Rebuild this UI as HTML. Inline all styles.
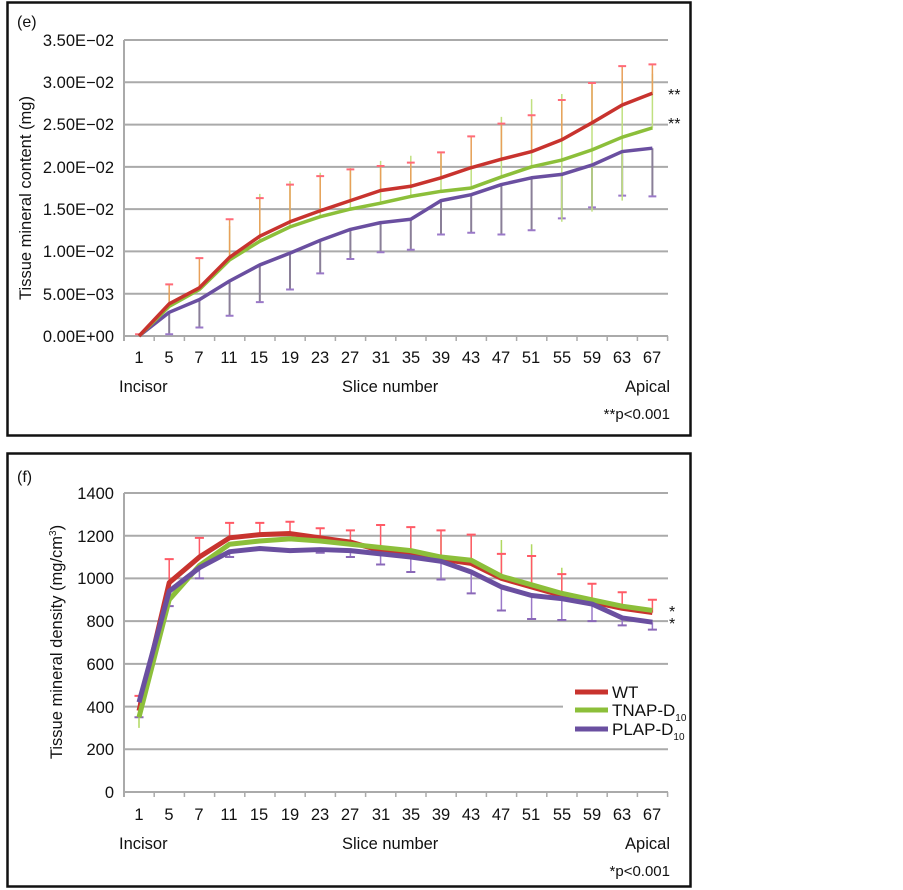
<!DOCTYPE html>
<html><head><meta charset="utf-8"><style>
body{margin:0;background:#fff}
svg{display:block}
text{font-family:"Liberation Sans",Arial,sans-serif;fill:#111}
</style></head><body>
<svg width="903" height="890" viewBox="0 0 903 890" xmlns="http://www.w3.org/2000/svg">
<rect width="903" height="890" fill="#fff"/>
<!-- ===== TOP (e) ===== -->
<rect x="7.5" y="2.5" width="683" height="433" fill="none" stroke="#111" stroke-width="2.5"/>
<text x="17" y="27" font-size="16">(e)</text>
<g stroke="#aaa" stroke-width="2">
<line x1="124" y1="40" x2="668" y2="40"/><line x1="124" y1="82.3" x2="668" y2="82.3"/><line x1="124" y1="124.6" x2="668" y2="124.6"/><line x1="124" y1="166.9" x2="668" y2="166.9"/><line x1="124" y1="209.1" x2="668" y2="209.1"/><line x1="124" y1="251.4" x2="668" y2="251.4"/><line x1="124" y1="293.7" x2="668" y2="293.7"/><line x1="124" y1="336" x2="668" y2="336"/>
<line x1="124" y1="40" x2="124" y2="341"/>
</g>
<g stroke="#aaa" stroke-width="1.5">
<line x1="154.2" y1="336" x2="154.2" y2="341"/><line x1="184.4" y1="336" x2="184.4" y2="341"/><line x1="214.6" y1="336" x2="214.6" y2="341"/><line x1="244.8" y1="336" x2="244.8" y2="341"/><line x1="275" y1="336" x2="275" y2="341"/><line x1="305.2" y1="336" x2="305.2" y2="341"/><line x1="335.4" y1="336" x2="335.4" y2="341"/><line x1="365.6" y1="336" x2="365.6" y2="341"/><line x1="395.8" y1="336" x2="395.8" y2="341"/><line x1="426" y1="336" x2="426" y2="341"/><line x1="456.2" y1="336" x2="456.2" y2="341"/><line x1="486.4" y1="336" x2="486.4" y2="341"/><line x1="516.6" y1="336" x2="516.6" y2="341"/><line x1="546.8" y1="336" x2="546.8" y2="341"/><line x1="577" y1="336" x2="577" y2="341"/><line x1="607.2" y1="336" x2="607.2" y2="341"/><line x1="637.4" y1="336" x2="637.4" y2="341"/><line x1="667.6" y1="336" x2="667.6" y2="341"/>
</g>
<g font-size="16.5" text-anchor="end">
<text x="114" y="46">3.50E−02</text><text x="114" y="88">3.00E−02</text><text x="114" y="130">2.50E−02</text><text x="114" y="173">2.00E−02</text><text x="114" y="215">1.50E−02</text><text x="114" y="257">1.00E−02</text><text x="114" y="300">5.00E−03</text><text x="114" y="342">0.00E+00</text>
</g>
<text transform="translate(31,198) rotate(-90)" font-size="16.5" text-anchor="middle">Tissue mineral content (mg)</text>
<g font-size="16.5" text-anchor="middle">
<text x="139" y="363">1</text><text x="169" y="363">5</text><text x="199" y="363">7</text><text x="229" y="363">11</text><text x="259" y="363">15</text><text x="290" y="363">19</text><text x="320" y="363">23</text><text x="350" y="363">27</text><text x="381" y="363">31</text><text x="411" y="363">35</text><text x="441" y="363">39</text><text x="471" y="363">43</text><text x="501" y="363">47</text><text x="531" y="363">51</text><text x="562" y="363">55</text><text x="592" y="363">59</text><text x="622" y="363">63</text><text x="652" y="363">67</text>
</g>
<text x="119" y="392" font-size="16.5">Incisor</text>
<text x="342" y="392" font-size="16.5">Slice number</text>
<text x="670" y="392" font-size="16.5" text-anchor="end">Apical</text>
<text x="670" y="419" font-size="15" text-anchor="end">**p&lt;0.001</text>
<text x="668" y="100" font-size="16">**</text>
<text x="668" y="129" font-size="16">**</text>
<g transform="translate(139,336) scale(30.2,-84.6)">
<path vector-effect="non-scaling-stroke" fill="none" stroke="#8a7f98" stroke-width="2" d="M1,0.28V0.02M2,0.43V0.1M3,0.65V0.24M4,0.84V0.4M5,0.98V0.55M6,1.13V0.74M7,1.26V0.91M8,1.34V0.99M9,1.38V1.02M10,1.6V1.2M11,1.67V1.22M12,1.79V1.2M13,1.87V1.25M14,1.91V1.39M15,2.02V1.52M16,2.18V1.66M17,2.22V1.65"/>
<path vector-effect="non-scaling-stroke" fill="none" stroke="#9a78c8" stroke-width="2" d="M0.87,0.02H1.13M1.87,0.1H2.13M2.87,0.24H3.13M3.87,0.4H4.13M4.87,0.55H5.13M5.87,0.74H6.13M6.87,0.91H7.13M7.87,0.99H8.13M8.87,1.02H9.13M9.87,1.2H10.13M10.87,1.22H11.13M11.87,1.2H12.13M12.87,1.25H13.13M13.87,1.39H14.13M14.87,1.52H15.13M15.87,1.66H16.13M16.87,1.65H17.13"/>
<path vector-effect="non-scaling-stroke" fill="none" stroke="#c0e080" stroke-width="1.5" d="M1,0.35V0.5M3,0.9V1.3M4,1.12V1.68M5,1.29V1.83M6,1.41V1.93M7,1.5V1.99M8,1.57V2.07M9,1.65V2.13M10,1.71V2.15M11,1.75V2.2M12,1.88V2.59M13,2.0V2.8M14,2.08V2.86M15,2.2V2.99M16,2.35V3.05M17,2.46V3.1M14,2.08V1.35M15,2.2V1.47M16,2.35V1.6"/>
<path vector-effect="non-scaling-stroke" fill="none" stroke="#e8a05a" stroke-width="1.5" d="M1,0.38V0.61M2,0.57V0.92M3,0.93V1.38M4,1.18V1.63M5,1.35V1.79M6,1.48V1.89M7,1.6V1.97M8,1.72V2.01M9,1.77V2.05M10,1.87V2.17M11,1.99V2.36M12,2.09V2.51M13,2.18V2.61M14,2.32V2.79M15,2.52V2.99M16,2.73V3.19M17,2.87V3.21"/>
<path vector-effect="non-scaling-stroke" fill="none" stroke="#ff6a78" stroke-width="2" d="M-0.13,0.02H0.13M0.87,0.61H1.13M1.87,0.92H2.13M2.87,1.38H3.13M3.87,1.63H4.13M4.87,1.79H5.13M5.87,1.89H6.13M6.87,1.97H7.13M7.87,2.01H8.13M8.87,2.05H9.13M9.87,2.17H10.13M10.87,2.36H11.13M11.87,2.51H12.13M12.87,2.61H13.13M13.87,2.79H14.13M14.87,2.99H15.13M15.87,3.19H16.13M16.87,3.21H17.13"/>
<path vector-effect="non-scaling-stroke" fill="none" stroke="#6a4fa0" stroke-width="3.5" stroke-linejoin="round" d="M0,0L1,0.28L2,0.43L3,0.65L4,0.84L5,0.98L6,1.13L7,1.26L8,1.34L9,1.38L10,1.6L11,1.67L12,1.79L13,1.87L14,1.91L15,2.02L16,2.18L17,2.22"/>
<path vector-effect="non-scaling-stroke" fill="none" stroke="#8cbf3a" stroke-width="3.5" stroke-linejoin="round" d="M0,0L1,0.35L2,0.55L3,0.9L4,1.12L5,1.29L6,1.41L7,1.5L8,1.57L9,1.65L10,1.71L11,1.75L12,1.88L13,2.0L14,2.08L15,2.2L16,2.35L17,2.46"/>
<path vector-effect="non-scaling-stroke" fill="none" stroke="#c8332e" stroke-width="3.5" stroke-linejoin="round" d="M0,0L1,0.38L2,0.57L3,0.93L4,1.18L5,1.35L6,1.48L7,1.6L8,1.72L9,1.77L10,1.87L11,1.99L12,2.09L13,2.18L14,2.32L15,2.52L16,2.73L17,2.87"/>
</g>

<!-- ===== BOTTOM (f) ===== -->
<rect x="7.5" y="453.5" width="683" height="433" fill="none" stroke="#111" stroke-width="2.5"/>
<text x="17" y="482" font-size="16">(f)</text>
<g stroke="#aaa" stroke-width="2">
<line x1="124" y1="493" x2="668" y2="493"/><line x1="124" y1="535.7" x2="668" y2="535.7"/><line x1="124" y1="578.4" x2="668" y2="578.4"/><line x1="124" y1="621.1" x2="668" y2="621.1"/><line x1="124" y1="663.9" x2="668" y2="663.9"/><line x1="124" y1="706.6" x2="563" y2="706.6"/><line x1="124" y1="749.3" x2="668" y2="749.3"/><line x1="124" y1="792" x2="668" y2="792"/>
<line x1="124" y1="493" x2="124" y2="797"/>
</g>
<g stroke="#aaa" stroke-width="1.5">
<line x1="154.2" y1="792" x2="154.2" y2="797"/><line x1="184.4" y1="792" x2="184.4" y2="797"/><line x1="214.6" y1="792" x2="214.6" y2="797"/><line x1="244.8" y1="792" x2="244.8" y2="797"/><line x1="275" y1="792" x2="275" y2="797"/><line x1="305.2" y1="792" x2="305.2" y2="797"/><line x1="335.4" y1="792" x2="335.4" y2="797"/><line x1="365.6" y1="792" x2="365.6" y2="797"/><line x1="395.8" y1="792" x2="395.8" y2="797"/><line x1="426" y1="792" x2="426" y2="797"/><line x1="456.2" y1="792" x2="456.2" y2="797"/><line x1="486.4" y1="792" x2="486.4" y2="797"/><line x1="516.6" y1="792" x2="516.6" y2="797"/><line x1="546.8" y1="792" x2="546.8" y2="797"/><line x1="577" y1="792" x2="577" y2="797"/><line x1="607.2" y1="792" x2="607.2" y2="797"/><line x1="637.4" y1="792" x2="637.4" y2="797"/><line x1="667.6" y1="792" x2="667.6" y2="797"/>
</g>
<g font-size="16.5" text-anchor="end">
<text x="114" y="499">1400</text><text x="114" y="542">1200</text><text x="114" y="584">1000</text><text x="114" y="627">800</text><text x="114" y="670">600</text><text x="114" y="713">400</text><text x="114" y="755">200</text><text x="114" y="798">0</text>
</g>
<text transform="translate(62,642) rotate(-90)" font-size="16.5" text-anchor="middle">Tissue mineral density (mg/cm<tspan font-size="10" dy="-6">3</tspan><tspan dy="6">)</tspan></text>
<g font-size="16.5" text-anchor="middle">
<text x="139" y="820">1</text><text x="169" y="820">5</text><text x="199" y="820">7</text><text x="229" y="820">11</text><text x="259" y="820">15</text><text x="290" y="820">19</text><text x="320" y="820">23</text><text x="350" y="820">27</text><text x="381" y="820">31</text><text x="411" y="820">35</text><text x="441" y="820">39</text><text x="471" y="820">43</text><text x="501" y="820">47</text><text x="531" y="820">51</text><text x="562" y="820">55</text><text x="592" y="820">59</text><text x="622" y="820">63</text><text x="652" y="820">67</text>
</g>
<text x="119" y="849" font-size="16.5">Incisor</text>
<text x="342" y="849" font-size="16.5">Slice number</text>
<text x="670" y="849" font-size="16.5" text-anchor="end">Apical</text>
<text x="670" y="876" font-size="15" text-anchor="end">*p&lt;0.001</text>
<text x="669" y="617" font-size="16">*</text>
<text x="669" y="629" font-size="16">*</text>
<g transform="translate(139,792) scale(30.2,-0.2136)">
<path vector-effect="non-scaling-stroke" fill="none" stroke="#9a78c8" stroke-width="1.5" d="M1,940V870M2,1050V1000M3,1125V1100M5,1130V1120M6,1135V1120M7,1130V1100M8,1115V1065M9,1100V1030M10,1080V995M11,1030V930M12,960V850M13,920V810M14,905V805M15,880V800M16,815V780M17,795V760M0,420V350"/>
<path vector-effect="non-scaling-stroke" fill="none" stroke="#8a68b8" stroke-width="2" d="M0.85,870H1.15M1.85,1000H2.15M2.85,1100H3.15M5.85,1120H6.15M6.85,1100H7.15M7.85,1065H8.15M8.85,1030H9.15M9.85,995H10.15M10.85,930H11.15M11.85,850H12.15M12.85,810H13.15M13.85,805H14.15M14.85,800H15.15M15.85,780H16.15M16.85,760H17.15M-0.15,350H0.15"/>
<path vector-effect="non-scaling-stroke" fill="none" stroke="#b0d860" stroke-width="1.5" d="M0,350V300M9,1130V1200M10,1100V1200M11,1085V1205M12,1010V1180M13,970V1160M14,930V1050"/>
<path vector-effect="non-scaling-stroke" fill="none" stroke="#ff5a66" stroke-width="1.5" d="M0,380V450M1,980V1090M2,1100V1190M3,1190V1260M4,1205V1260M5,1210V1265M6,1190V1235M7,1170V1225M8,1130V1250M9,1115V1240M10,1090V1225M11,1070V1205M12,1000V1115M13,960V1105M14,920V1020M15,890V975M16,860V935M17,840V900"/>
<path vector-effect="non-scaling-stroke" fill="none" stroke="#ff5a66" stroke-width="2" d="M-0.15,450H0.15M0.85,1090H1.15M1.85,1190H2.15M2.85,1260H3.15M3.85,1260H4.15M4.85,1265H5.15M5.85,1235H6.15M6.85,1225H7.15M7.85,1250H8.15M8.85,1240H9.15M9.85,1225H10.15M10.85,1205H11.15M11.85,1115H12.15M12.85,1105H13.15M13.85,1020H14.15M14.85,975H15.15M15.85,935H16.15M16.85,900H17.15"/>
<path vector-effect="non-scaling-stroke" fill="none" stroke="#c8332e" stroke-width="5" stroke-linejoin="round" d="M0,380L1,980L2,1100L3,1190L4,1205L5,1210L6,1190L7,1170L8,1130L9,1115L10,1090L11,1070L12,1000L13,960L14,920L15,890L16,860L17,840"/>
<path vector-effect="non-scaling-stroke" fill="none" stroke="#8cbf3a" stroke-width="5" stroke-linejoin="round" d="M0,350L1,900L2,1060L3,1160L4,1175L5,1185L6,1175L7,1160L8,1145L9,1130L10,1100L11,1085L12,1010L13,970L14,930L15,900L16,870L17,850"/>
<path vector-effect="non-scaling-stroke" fill="none" stroke="#6a4fa0" stroke-width="5" stroke-linejoin="round" d="M0,420L1,940L2,1050L3,1125L4,1140L5,1130L6,1135L7,1130L8,1115L9,1100L10,1080L11,1030L12,960L13,920L14,905L15,880L16,815L17,795"/>
</g>
<g stroke-width="5">
<line x1="575" y1="692" x2="608" y2="692" stroke="#c8332e"/>
<line x1="575" y1="710" x2="608" y2="710" stroke="#8cbf3a"/>
<line x1="575" y1="729" x2="608" y2="729" stroke="#6a4fa0"/>
</g>
<g font-size="17">
<text x="612" y="698">WT</text>
<text x="612" y="716">TNAP-D<tspan font-size="10" dy="5">10</tspan></text>
<text x="612" y="735">PLAP-D<tspan font-size="10" dy="5">10</tspan></text>
</g>
</svg>
</body></html>
